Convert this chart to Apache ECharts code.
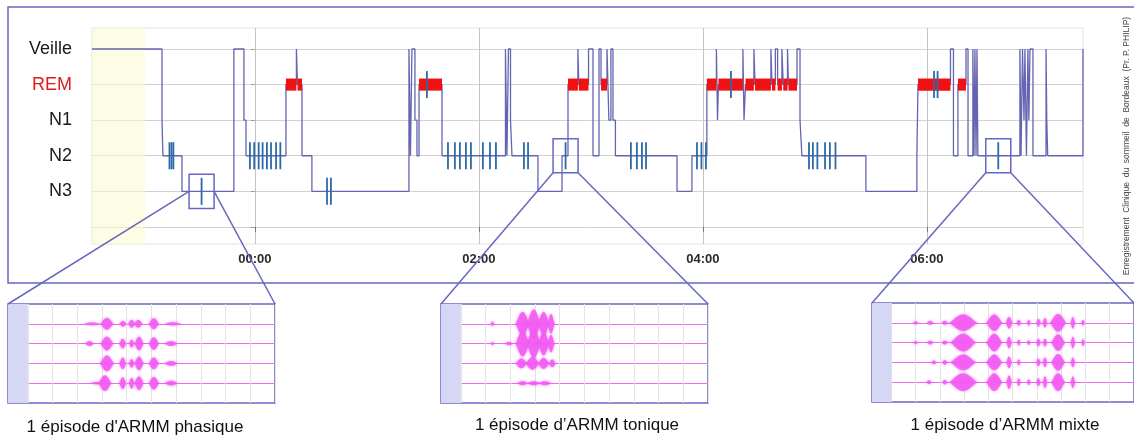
<!DOCTYPE html>
<html><head><meta charset="utf-8">
<script src="https://cdn.jsdelivr.net/npm/echarts@6/dist/echarts.min.js"></script>
<style>html,body{margin:0;padding:0;background:#fff}#c{width:1134px;height:445px}</style>
</head><body><div id="c"></div>
<script>
// ---------- DATA ----------
// stage value -> label (index = value)
const stageNames = ['', 'N3', 'N2', 'N1', 'REM', 'Veille'];
// time axis in minutes from midnight
const hourTicks = [0, 120, 240, 360];
const hourLabels = ['00:00', '02:00', '04:00', '06:00'];
const recStart = -87.3, recEnd = 443.6;
const lightsOffEnd = -58.9;
// hypnogram: stage starting at each time
const hypnoTimes = [-87.3, -49.8, -49.3, -39.1, -11.3, -5.9, -4.8, 16.6, 22.2, 22.8, 25.2, 30.5,
  82.5, 83.3, 84.1, 85.7, 86.8, 87.9, 100.2, 134.2, 135.0, 135.8, 136.9, 137.7, 151.6, 164.5,
  167.7, 173.0, 173.5, 178.7, 181.1, 184.3, 185.4, 188.6, 189.6, 190.7, 191.8, 193.1, 226.1,
  234.1, 242.1, 247.2, 247.8, 248.3, 261.4, 262.0, 262.8, 267.3, 267.9, 276.4, 277.0, 278.8,
  280.0, 282.3, 283.0, 285.3, 285.8, 290.4, 292.0, 293.0, 327.3, 354.6, 355.2, 372.6, 374.2,
  376.6, 380.9, 382.0, 384.6, 385.2, 385.7, 386.3, 386.8, 387.3, 409.8, 410.4, 411.2, 412.0,
  412.5, 413.3, 414.1, 414.6, 415.2, 416.8, 423.8, 424.2, 424.7, 443.6];
const hypnoStages = [5, 3, 2, 1, 5, 3, 2, 4, 5, 4, 2, 1,
  5, 2, 5, 3, 2, 4, 2, 5, 2, 5, 3, 2, 1, 2,
  4, 5, 4, 5, 2, 5, 4, 5, 3, 5, 3, 2, 1,
  2, 4, 5, 3, 4, 5, 3, 4, 5, 4, 5, 4, 5,
  4, 5, 4, 5, 4, 5, 3, 2, 1, 2, 4, 5, 2,
  4, 5, 2, 5, 2, 5, 2, 5, 2, 5, 2, 5, 3,
  5, 2, 5, 3, 5, 2, 5, 3, 2, 5];
// arousal / EMG event markers
const arousalTimes = [-45.8, -44.7, -43.7, -28.6, -2.7, -0.4, 2.0, 4.1, 6.4, 8.6, 11.3, 13.6,
  38.6, 40.7, 92.1, 103.4, 107.1, 109.8, 113.0, 115.7, 122.1, 125.9, 129.1, 144.1, 146.3, 166.4,
  201.4, 204.6, 207.3, 209.5, 236.8, 239.2, 241.6, 255.0, 296.8, 298.9, 301.3, 305.4, 308.0,
  311.0, 363.8, 365.7, 398.2];
const arousalStages = [2, 2, 2, 1, 2, 2, 2, 2, 2, 2, 2, 2, 1, 1, 4, 2, 2, 2, 2, 2, 2, 2, 2, 2, 2, 2,
  2, 2, 2, 2, 2, 2, 2, 4, 2, 2, 2, 2, 2, 2, 4, 4, 2];
// zoomed episodes
const episodeTimes = [-28.6, 166.4, 398.2];
const episodeStages = [1, 2, 2];
const episodeLabels = ["1 épisode d'ARMM phasique", "1 épisode d’ARMM tonique", "1 épisode d’ARMM mixte"];
// EMG bursts in the insets: [channel, time (s), half-width (s), amplitude]
const phasicBursts = [
  [4, 2.6, 0.35, 0.07], [4, 3.2, 0.28, 0.3], [4, 3.85, 0.15, 0.15], [4, 4.2, 0.15, 0.2], [4, 4.47, 0.18, 0.2], [4, 5.1, 0.22, 0.28], [4, 5.87, 0.35, 0.08],
  [3, 2.5, 0.2, 0.12], [3, 3.2, 0.28, 0.35], [3, 3.84, 0.15, 0.25], [3, 4.2, 0.12, 0.2], [3, 4.5, 0.2, 0.35], [3, 5.1, 0.22, 0.32], [3, 5.8, 0.3, 0.12],
  [2, 3.2, 0.3, 0.4], [2, 3.84, 0.15, 0.3], [2, 4.2, 0.12, 0.22], [2, 4.5, 0.2, 0.35], [2, 5.1, 0.22, 0.3], [2, 5.8, 0.3, 0.12],
  [1, 2.8, 0.3, 0.06], [1, 3.12, 0.28, 0.4], [1, 3.84, 0.15, 0.3], [1, 4.2, 0.12, 0.28], [1, 4.5, 0.2, 0.35], [1, 5.1, 0.22, 0.32], [1, 5.8, 0.3, 0.12]
];
const tonicBursts = [
  [4, 1.28, 0.08, 0.12], [4, 2.5, 0.3, 0.6], [4, 2.95, 0.3, 0.72], [4, 3.35, 0.25, 0.6], [4, 3.65, 0.15, 0.5],
  [3, 1.28, 0.08, 0.08], [3, 1.95, 0.2, 0.08], [3, 2.5, 0.3, 0.65], [3, 2.95, 0.3, 0.75], [3, 3.35, 0.25, 0.6], [3, 3.65, 0.15, 0.45],
  [2, 2.45, 0.25, 0.25], [2, 2.9, 0.3, 0.32], [2, 3.35, 0.25, 0.28], [2, 3.7, 0.15, 0.2],
  [1, 2.5, 0.25, 0.1], [1, 2.95, 0.3, 0.1], [1, 3.4, 0.3, 0.1]
];
const mixedBursts = [
  [4, 1.0, 0.12, 0.08], [4, 1.6, 0.15, 0.1], [4, 2.2, 0.15, 0.1], [4, 2.96, 0.6, 0.42], [4, 4.24, 0.35, 0.42], [4, 4.85, 0.15, 0.3], [4, 5.25, 0.1, 0.15], [4, 5.66, 0.08, 0.15], [4, 6.06, 0.1, 0.2], [4, 6.33, 0.1, 0.25], [4, 6.87, 0.35, 0.45], [4, 7.48, 0.1, 0.3], [4, 7.9, 0.08, 0.15],
  [3, 1.0, 0.1, 0.08], [3, 1.6, 0.15, 0.1], [3, 2.2, 0.15, 0.1], [3, 2.96, 0.55, 0.45], [3, 4.24, 0.35, 0.45], [3, 4.85, 0.12, 0.3], [3, 5.25, 0.08, 0.15], [3, 5.66, 0.08, 0.12], [3, 6.06, 0.1, 0.2], [3, 6.33, 0.1, 0.2], [3, 6.87, 0.3, 0.42], [3, 7.48, 0.1, 0.3], [3, 7.9, 0.08, 0.18],
  [2, 1.75, 0.12, 0.1], [2, 2.2, 0.12, 0.12], [2, 2.96, 0.55, 0.4], [2, 4.24, 0.35, 0.4], [2, 4.85, 0.12, 0.3], [2, 5.25, 0.08, 0.15], [2, 6.06, 0.1, 0.2], [2, 6.33, 0.1, 0.25], [2, 6.87, 0.3, 0.42], [2, 7.48, 0.1, 0.25],
  [1, 1.55, 0.12, 0.1], [1, 2.2, 0.12, 0.12], [1, 2.96, 0.6, 0.45], [1, 4.24, 0.35, 0.45], [1, 4.85, 0.12, 0.35], [1, 5.25, 0.08, 0.2], [1, 5.66, 0.08, 0.15], [1, 6.06, 0.1, 0.2], [1, 6.33, 0.1, 0.3], [1, 6.87, 0.3, 0.45], [1, 7.48, 0.1, 0.3]
];
const insetBursts = [phasicBursts, tonicBursts, mixedBursts];
const insetSeconds = [0, 1, 2, 3, 4, 5, 6, 7, 8, 9, 10];
const insetChannels = [1, 2, 3, 4];
const creditText = 'Enregistrement  Clinique  du  sommeil  de  Bordeaux  (Pr. P. PHILIP)';

// ---------- STYLE ----------
const FONT = '"Liberation Sans", Arial, sans-serif';
const FRAME = '#6767c2';
const HYP = '#6464b2';
const insetXMin = -0.8, insetXMax = 10, insetYMin = 0, insetYMax = 5;
const boxHalfW = 6.7, boxHalfH = 0.48;
const insetLayout = [
  {left: 8, top: 304, width: 267, height: 99},
  {left: 441, top: 304, width: 267, height: 99},
  {left: 872, top: 303, width: 267, height: 99}
];
const labelPos = [[135, 427], [577, 425], [1005, 425]];
const attachMid = [true, false, false];

// derived mark data
const hypnoData = hypnoTimes.map((t, i) => [t, hypnoStages[i]]);
const remData = [];
for (let i = 0; i < hypnoTimes.length - 1; i++) {
  if (hypnoStages[i] === 4) remData.push([hypnoTimes[i], hypnoTimes[i + 1], 4]);
}
const arousalData = arousalTimes.map((t, i) => [t, arousalStages[i]]);
const episodeData = episodeTimes.map((t, i) => [t, episodeStages[i]]);

const chart = echarts.init(document.getElementById('c'), null, {renderer: 'canvas'});

function burstRender(params, api) {
  const ch = api.value(0), t = api.value(1), hw = api.value(2), amp = api.value(3);
  const top = [], bot = [];
  const N = 20;
  for (let k = 0; k <= N; k++) {
    const s = -1 + 2 * k / N;
    const e = Math.pow(Math.max(0, 1 - s * s), 1.6);
    top.push(api.coord([t + hw * s, ch + amp * e]));
    bot.push(api.coord([t + hw * s, ch - amp * e]));
  }
  return {type: 'polygon', shape: {points: top.concat(bot.reverse())},
    style: {fill: '#f25af2', opacity: 0.85, shadowBlur: 3, shadowColor: 'rgba(240,80,240,0.8)'}};
}

const grids = [{left: 92, right: 51, top: 28, bottom: 201, show: true, borderColor: '#e2e2e2', borderWidth: 1, backgroundColor: 'transparent'}];
const xAxes = [{
  type: 'value', gridIndex: 0, min: recStart, max: recEnd,
  axisLine: {show: false},
  axisTick: {show: true, customValues: hourTicks, length: 5, lineStyle: {color: '#777'}},
  axisLabel: {show: true, customValues: hourTicks, margin: 9, color: '#2a2a2a', fontSize: 13, fontWeight: 'bold', fontFamily: FONT,
    formatter: v => hourLabels[hourTicks.indexOf(v)] || ''},
  splitLine: {show: true, lineStyle: {color: '#c4c4c4', width: 1}}
}];
const yAxes = [{
  type: 'value', gridIndex: 0, min: -0.48, max: 5.59,
  axisLine: {show: false},
  axisTick: {show: true, customValues: [0, 1, 2, 3, 4, 5], length: 4, lineStyle: {color: '#999'}},
  axisLabel: {show: true, customValues: [1, 2, 3, 4, 5], margin: 20, fontFamily: FONT,
    formatter: v => v === 4 ? '{rem|REM}' : '{n|' + (stageNames[v] || '') + '}',
    rich: {rem: {color: '#e01a1a', fontSize: 18, fontFamily: FONT}, n: {color: '#1a1a1a', fontSize: 18, fontFamily: FONT}}},
  splitLine: {show: true, lineStyle: {color: '#d2d2d2', width: 1}}
}];
const series = [
  {
    type: 'line', xAxisIndex: 0, yAxisIndex: 0, data: hypnoData, step: 'end', symbol: 'none',
    lineStyle: {color: HYP, width: 1.3}, z: 3, silent: true, animation: false,
    markArea: {silent: true, itemStyle: {color: 'rgba(251,250,205,0.55)'}, data: [[{xAxis: recStart}, {xAxis: lightsOffEnd}]]}
  },
  {
    type: 'custom', xAxisIndex: 0, yAxisIndex: 0, data: remData, z: 4, silent: true, animation: false,
    encode: {x: [0, 1], y: 2},
    renderItem: (p, api) => {
      const a = api.coord([api.value(0), api.value(2) + 0.17]);
      const b = api.coord([api.value(1), api.value(2) - 0.17]);
      return {type: 'rect', shape: {x: a[0], y: a[1], width: b[0] - a[0], height: b[1] - a[1]}, style: {fill: '#f01212'}};
    }
  },
  {
    type: 'custom', xAxisIndex: 0, yAxisIndex: 0, data: arousalData, z: 5, silent: true, animation: false,
    encode: {x: 0, y: 1},
    renderItem: (p, api) => {
      const a = api.coord([api.value(0), api.value(1) + 0.38]);
      const b = api.coord([api.value(0), api.value(1) - 0.38]);
      return {type: 'line', shape: {x1: a[0], y1: a[1], x2: b[0], y2: b[1]}, style: {stroke: '#2c6aa6', lineWidth: 1.8}};
    }
  },
  {
    type: 'custom', xAxisIndex: 0, yAxisIndex: 0, data: episodeData, z: 6, silent: true, animation: false,
    encode: {x: 0, y: 1},
    renderItem: (p, api) => {
      const a = api.coord([api.value(0) - boxHalfW, api.value(1) + boxHalfH]);
      const b = api.coord([api.value(0) + boxHalfW, api.value(1) - boxHalfH]);
      return {type: 'rect', shape: {x: a[0], y: a[1], width: b[0] - a[0], height: b[1] - a[1]}, style: {fill: 'none', stroke: FRAME, lineWidth: 1.5}};
    }
  }
];

insetLayout.forEach((L, i) => {
  const gi = i + 1;
  grids.push(Object.assign({show: true, borderColor: FRAME, borderWidth: 1.5, backgroundColor: '#fff'}, L));
  xAxes.push({
    type: 'value', gridIndex: gi, min: insetXMin, max: insetXMax,
    axisLine: {show: false}, axisLabel: {show: false},
    axisTick: {show: false, customValues: insetSeconds},
    splitLine: {show: true, lineStyle: {color: '#e3e3e3', width: 1}}
  });
  yAxes.push({
    type: 'value', gridIndex: gi, min: insetYMin, max: insetYMax,
    axisLine: {show: false}, axisLabel: {show: false},
    axisTick: {show: false, customValues: insetChannels},
    splitLine: {show: true, lineStyle: {color: '#ec6aec', width: 1}}
  });
  series.push({
    type: 'custom', xAxisIndex: gi, yAxisIndex: gi, data: insetBursts[i], z: 4, silent: true, animation: false,
    encode: {x: 1, y: 0}, renderItem: burstRender,
    markArea: {silent: true, itemStyle: {color: '#d6d6f5'}, data: [[{xAxis: insetXMin}, {xAxis: 0}]]}
  });
});

chart.setOption({
  animation: false,
  backgroundColor: '#fff',
  grid: grids, xAxis: xAxes, yAxis: yAxes, series: series
});

// annotations: frame, zoom connectors, captions
const g = [];
g.push({type: 'rect', shape: {x: 8, y: 7, width: 1140, height: 276}, style: {fill: 'none', stroke: FRAME, lineWidth: 1.5}, z: 0, silent: true});
episodeTimes.forEach((t, i) => {
  const s = episodeStages[i];
  const yA = attachMid[i] ? s : s - boxHalfH;
  const pL = chart.convertToPixel({gridIndex: 0}, [t - boxHalfW, yA]);
  const pR = chart.convertToPixel({gridIndex: 0}, [t + boxHalfW, yA]);
  const tl = chart.convertToPixel({gridIndex: i + 1}, [insetXMin, insetYMax]);
  const tr = chart.convertToPixel({gridIndex: i + 1}, [insetXMax, insetYMax]);
  g.push({type: 'line', shape: {x1: pL[0], y1: pL[1], x2: tl[0], y2: tl[1]}, style: {stroke: FRAME, lineWidth: 1.5}, z: 10, silent: true});
  g.push({type: 'line', shape: {x1: pR[0], y1: pR[1], x2: tr[0], y2: tr[1]}, style: {stroke: FRAME, lineWidth: 1.5}, z: 10, silent: true});
  g.push({type: 'text', x: labelPos[i][0], y: labelPos[i][1], silent: true, z: 10,
    style: {text: episodeLabels[i], fill: '#111', font: '17px ' + FONT, textAlign: 'center', textVerticalAlign: 'middle'}});
});
g.push({type: 'text', x: 1127, y: 146, rotation: Math.PI / 2, silent: true, z: 10,
  style: {text: creditText, fill: '#444', font: '8.5px ' + FONT, textAlign: 'center', textVerticalAlign: 'middle'}});
chart.setOption({graphic: g});
</script></body></html>
